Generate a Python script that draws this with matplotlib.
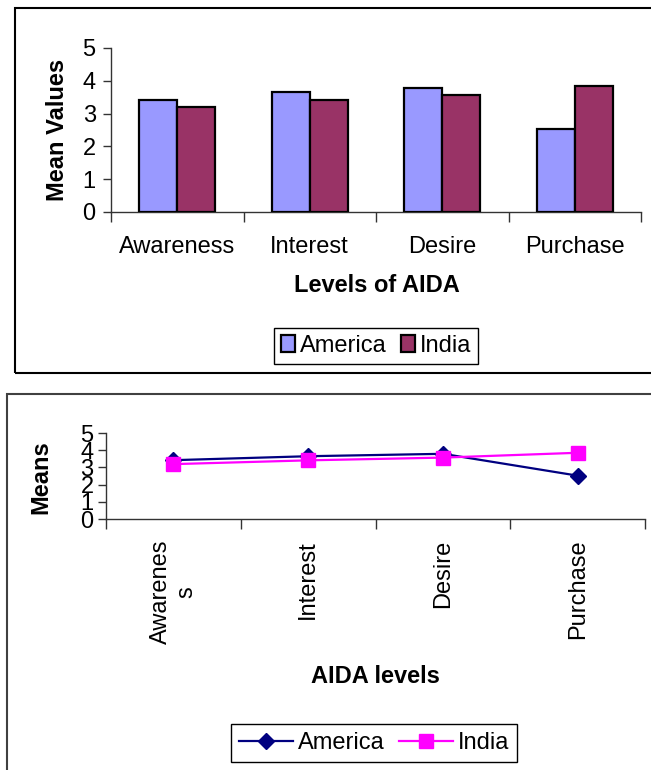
import numpy as np
import matplotlib
matplotlib.use("Agg")
import matplotlib.pyplot as plt
from matplotlib.patches import Rectangle, Patch
from matplotlib.lines import Line2D

plt.rcParams['font.family'] = ['Liberation Sans', 'DejaVu Sans']

# Data
levels = ["Awareness", "Interest", "Desire", "Purchase"]
levels_rotated = ["Awarenes\ns", "Interest", "Desire", "Purchase"]
america = [3.42, 3.65, 3.79, 2.52]
india = [3.19, 3.41, 3.57, 3.85]
series_names = ["America", "India"]
yticks = [0, 1, 2, 3, 4, 5]

bar_colors = ["#9999FF", "#993366"]
line_colors = ["#000080", "#FF00FF"]
axis_color = "#333333"
FS = 17

W, H = 651, 770
fig = plt.figure(figsize=(W / 100, H / 100), dpi=100)


def px_axes(x0, x1, ytop, ybot):
    return fig.add_axes([x0 / W, 1 - ybot / H, (x1 - x0) / W, (ybot - ytop) / H])


def style_axes(ax):
    for s in ("top", "right"):
        ax.spines[s].set_visible(False)
    for s in ("left", "bottom"):
        ax.spines[s].set_color(axis_color)
        ax.spines[s].set_linewidth(1.0)
    n = len(levels)
    ax.set_xlim(0, n)
    ax.set_ylim(0, 5)
    ax.set_yticks(yticks)
    ax.set_xticks(np.arange(n) + 0.5)
    ax.set_xticks(np.arange(n + 1), minor=True)
    ax.tick_params(axis="x", which="major", length=0)
    ax.tick_params(axis="x", which="minor", length=7, color=axis_color, width=1.0)
    ax.tick_params(axis="y", length=6, color=axis_color, width=1.0, labelsize=FS, pad=5)


# Outer chart frames
fig.add_artist(Rectangle((15 / W, 1 - 373 / H), 1.2, (373 - 8) / H, transform=fig.transFigure,
                         fill=False, edgecolor="black", linewidth=1.5))
fig.add_artist(Rectangle((7 / W, -0.2), 1.2, 0.2 + 1 - 394 / H, transform=fig.transFigure,
                         fill=False, edgecolor="#404040", linewidth=1.5))

# ---- Bar chart ----
ax1 = px_axes(111, 641, 48, 212)
style_axes(ax1)
x = np.arange(len(levels)) + 0.5
bw = 0.287
ax1.bar(x - bw / 2, america, bw, color=bar_colors[0], edgecolor="black", linewidth=1.6, zorder=3)
ax1.bar(x + bw / 2, india, bw, color=bar_colors[1], edgecolor="black", linewidth=1.6, zorder=3)
ax1.set_xticklabels(levels, fontsize=FS)
ax1.tick_params(axis="x", which="major", pad=17)
ax1.set_ylabel("Mean Values", fontsize=FS, fontweight="bold")
ax1.yaxis.set_label_coords(-0.079, 0.5)
ax1.set_xlabel("Levels of AIDA", fontsize=FS, fontweight="bold")
ax1.xaxis.set_label_coords(0.502, -0.38)

leg1 = fig.legend(
    handles=[Patch(facecolor=bar_colors[0], edgecolor="black", linewidth=1.6),
             Patch(facecolor=bar_colors[1], edgecolor="black", linewidth=1.6)],
    labels=series_names, loc="center", bbox_to_anchor=(376 / W, 1 - 346 / H),
    ncol=2, fontsize=FS, frameon=True, fancybox=False, framealpha=1,
    handlelength=0.6, handleheight=0.7, handletextpad=0.2, columnspacing=0.6,
    borderpad=0.3, borderaxespad=0)
leg1.get_frame().set_edgecolor("black")
leg1.get_frame().set_linewidth(1.0)

# ---- Line chart ----
ax2 = px_axes(106, 645, 433, 519)
style_axes(ax2)
ax2.tick_params(axis="y", pad=3)
ax2.plot(x, america, color=line_colors[0], marker="D", markersize=8, linewidth=1.6, zorder=3)
ax2.plot(x, india, color=line_colors[1], marker="s", markersize=10, linewidth=1.6, zorder=3)
ax2.set_xticklabels(levels_rotated, fontsize=FS, rotation=90, va="top", ha="center",
                    multialignment="center")
ax2.tick_params(axis="x", which="major", pad=15)
ax2.set_ylabel("Means", fontsize=FS, fontweight="bold")
ax2.yaxis.set_label_coords(-0.100, 0.49)
ax2.set_xlabel("AIDA levels", fontsize=FS, fontweight="bold")
ax2.xaxis.set_label_coords(0.499, -1.70)

leg2 = fig.legend(
    handles=[Line2D([], [], color=line_colors[0], marker="D", markersize=8, linewidth=1.6),
             Line2D([], [], color=line_colors[1], marker="s", markersize=10, linewidth=1.6)],
    labels=series_names, loc="center", bbox_to_anchor=(374 / W, 1 - 743 / H),
    ncol=2, fontsize=FS, frameon=True, fancybox=False, framealpha=1,
    handlelength=2.3, handletextpad=0.2, columnspacing=0.6,
    borderpad=0.35, borderaxespad=0)
leg2.get_frame().set_edgecolor("black")
leg2.get_frame().set_linewidth(1.0)

fig.savefig("out.png", dpi=100)
